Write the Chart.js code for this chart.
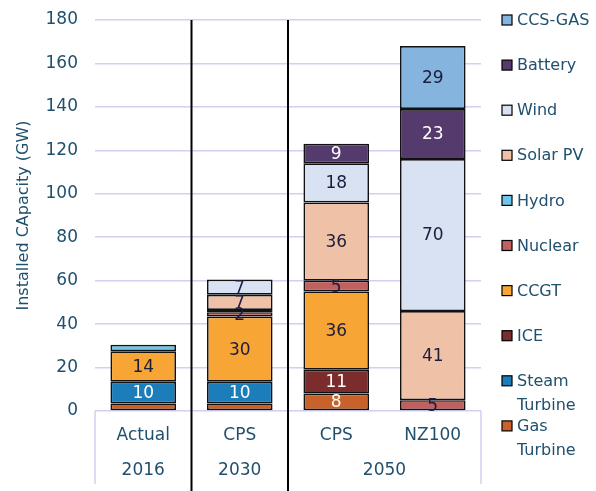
<!DOCTYPE html>
<html>
<head>
<meta charset="utf-8">
<script src="https://cdn.jsdelivr.net/npm/chart.js@4.4.1/dist/chart.umd.min.js"></script>
<style>
  body { margin: 0; background: #fff; }
</style>
</head>
<body>
<canvas id="capacity" width="596" height="491"></canvas>
<script>
const categories = ["Actual", "CPS", "CPS", "NZ100"];
const yearGroups = [["2016", 0, 0], ["2030", 1, 1], ["2050", 2, 3]];
const yTicks = [0, 20, 40, 60, 80, 100, 120, 140, 160, 180];

// values in GW, bottom of the stack first
const gasTurbine   = [3.5, 3.5, 8, 0];
const steamTurbine = [10, 10, 0, 0];
const ice          = [0, 0, 11, 0];
const ccgt         = [14, 30, 36, 0];
const nuclear      = [0, 2, 5, 5];
const hydro        = [3, 1, 0, 0];
const solarPV      = [0, 7, 36, 41];
const wind         = [0, 7, 18, 70];
const battery      = [0, 0, 9, 23];
const ccsGas       = [0, 0, 0, 29];

const textColor = '#21506e';
const gridColor = '#d0d0f0';
const font = 'DejaVu Sans';

const series = [
    { label: "Gas Turbine", data: gasTurbine, color: '#c8622a', text: '#fff' },
    { label: "Steam Turbine", data: steamTurbine, color: '#1b7dba', text: '#fff' },
    { label: "ICE", data: ice, color: '#7b2c2c', text: '#fff' },
    { label: "CCGT", data: ccgt, color: '#f7a535', text: '#1c1c3c' },
    { label: "Nuclear", data: nuclear, color: '#c0605f', text: '#1c1c3c' },
    { label: "Hydro", data: hydro, color: '#6ec6ee', text: '#1c1c3c' },
    { label: "Solar PV", data: solarPV, color: '#efc2a8', text: '#1c1c3c' },
    { label: "Wind", data: wind, color: '#d9e2f3', text: '#1c1c3c' },
    { label: "Battery", data: battery, color: '#553a6e', text: '#fff' },
    { label: "CCS-GAS", data: ccsGas, color: '#85b5de', text: '#1c1c3c' }
];

function showLabel(name, v) {
    if (!v || v < 2) return false;
    if (name === "Hydro") return false;
    if (name === "Gas Turbine" && v < 5) return false;
    return true;
}

// value labels inside each segment
const segmentLabels = {
    id: 'segmentLabels',
    afterDatasetsDraw(chart) {
        const ctx = chart.ctx;
        ctx.save();
        ctx.font = '17px "' + font + '"';
        ctx.textAlign = 'center';
        ctx.textBaseline = 'middle';
        chart.data.datasets.forEach((ds, i) => {
            chart.getDatasetMeta(i).data.forEach((bar, j) => {
                const v = ds.data[j];
                if (!showLabel(ds.label, v)) return;
                ctx.fillStyle = ds.labelColor;
                ctx.fillText(String(v), bar.x, (bar.y + bar.base) / 2 + 1);
            });
        });
        ctx.restore();
    }
};

// year row, separators, axis box and the legend
const decorations = {
    id: 'decorations',
    afterDraw(chart) {
        const ctx = chart.ctx;
        const x = chart.scales.x;
        const area = chart.chartArea;
        const H = chart.height;
        ctx.save();

        ctx.strokeStyle = gridColor;
        ctx.lineWidth = 1.5;
        [area.left, area.right].forEach(px => {
            ctx.beginPath();
            ctx.moveTo(px, area.bottom);
            ctx.lineTo(px, area.bottom + 73);
            ctx.stroke();
        });

        ctx.strokeStyle = '#000';
        ctx.lineWidth = 2;
        [0, 1].forEach(i => {
            const px = (x.getPixelForValue(i) + x.getPixelForValue(i + 1)) / 2;
            ctx.beginPath();
            ctx.moveTo(px, area.top);
            ctx.lineTo(px, H);
            ctx.stroke();
        });

        ctx.fillStyle = textColor;
        ctx.font = '17px "' + font + '"';
        ctx.textAlign = 'center';
        ctx.textBaseline = 'middle';
        yearGroups.forEach(([label, a, b]) => {
            const px = (x.getPixelForValue(a) + x.getPixelForValue(b)) / 2;
            ctx.fillText(label, px, area.bottom + 60);
        });

        // legend, top item = last dataset
        ctx.font = '16px "' + font + '"';
        ctx.textAlign = 'left';
        const lx = 502, tx = 517, maxW = chart.width - tx - 2;
        const items = chart.data.datasets.slice().reverse();
        let y = 20;
        items.forEach(ds => {
            ctx.fillStyle = ds.backgroundColor;
            ctx.fillRect(lx, y - 5, 10, 10);
            ctx.strokeStyle = '#000';
            ctx.lineWidth = 1.2;
            ctx.strokeRect(lx, y - 5, 10, 10);
            ctx.fillStyle = textColor;
            const lines = [];
            let cur = '';
            ds.label.split(' ').forEach(w => {
                const t = cur ? cur + ' ' + w : w;
                if (cur && ctx.measureText(t).width > maxW) { lines.push(cur); cur = w; }
                else cur = t;
            });
            lines.push(cur);
            lines.forEach((ln, k) => ctx.fillText(ln, tx, y + 1 + k * 24));
            y += 45.1;
        });

        ctx.restore();
    }
};

let capacityChart = new Chart(document.getElementById("capacity").getContext("2d"), {
    type: 'bar',
    data: {
        labels: categories,
        datasets: series.map(s => ({
            label: s.label,
            data: s.data.map(v => v || null),
            backgroundColor: s.color,
            borderColor: '#111',
            borderWidth: 1.7,
            borderSkipped: false,
            labelColor: s.text,
            categoryPercentage: 1,
            barPercentage: 0.68
        }))
    },
    options: {
        responsive: false,
        animation: false,
        devicePixelRatio: 1,
        layout: {
            padding: { top: 20, right: 115, left: 0, bottom: 0 }
        },
        plugins: {
            legend: { display: false },
            tooltip: { enabled: false }
        },
        scales: {
            x: {
                stacked: true,
                grid: { display: false, drawTicks: false },
                border: { display: false },
                ticks: {
                    color: textColor,
                    font: { family: font, size: 17 },
                    padding: 14
                },
                afterFit: s => { s.height = 80; s.paddingLeft = 0; s.paddingRight = 0; }
            },
            y: {
                stacked: true,
                min: 0,
                max: 180,
                afterBuildTicks: s => { s.ticks = yTicks.map(v => ({ value: v })); },
                grid: { color: gridColor, lineWidth: 1.5, drawTicks: false },
                border: { display: false },
                ticks: {
                    color: textColor,
                    font: { family: font, size: 17 },
                    padding: 17
                },
                title: {
                    display: true,
                    text: "Installed CApacity (GW)",
                    color: textColor,
                    font: { family: font, size: 16 },
                    padding: { top: 14, bottom: 0 }
                },
                afterFit: s => { s.width = 95; s.paddingTop = 0; s.paddingBottom = 0; }
            }
        }
    },
    plugins: [segmentLabels, decorations]
});
</script>
</body>
</html>
